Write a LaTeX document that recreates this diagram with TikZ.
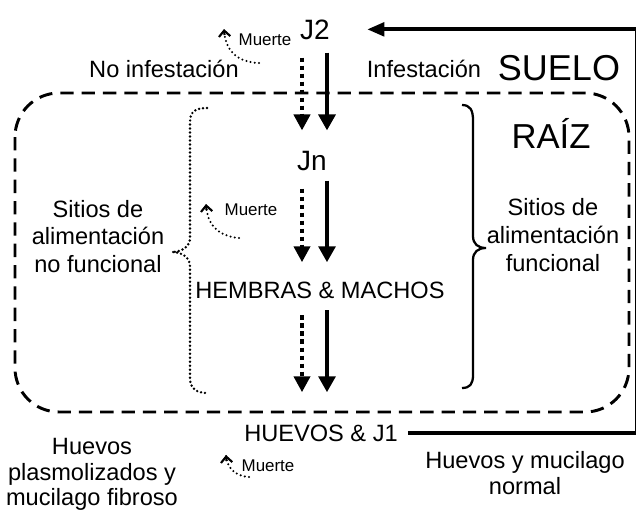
\documentclass[tikz,border=0pt]{standalone}
\usepackage{fontspec}
\setmainfont{Liberation Sans}
\usetikzlibrary{arrows.meta}
\begin{document}
\begin{tikzpicture}[x=0.75pt,y=-0.75pt,
  lab/.style={inner sep=0pt, font=\fontsize{17.7pt}{20.6pt}\selectfont, align=center},
  small/.style={inner sep=0pt, font=\fontsize{12.7pt}{15pt}\selectfont},
  stage/.style={inner sep=0pt, font=\fontsize{21pt}{25pt}\selectfont},
  bigtxt/.style={inner sep=0pt, font=\fontsize{27pt}{32pt}\selectfont},
  solarr/.style={line width=3pt, -{Triangle[width=12.5pt,length=12pt]}},
  dotarr/.style={line width=3pt, dash pattern=on 3.5pt off 2.5pt, -{Triangle[width=12pt,length=12pt]}},
  bigline/.style={line width=3.2pt, -{Triangle[width=10pt,length=13pt]}},
  death/.style={line width=1.7pt, dash pattern=on 0pt off 3.2pt, line cap=round},
  deathtip/.style={line width=1.6pt, -{Straight Barb[width=8.5pt,length=4.5pt]}},
  rootbox/.style={line width=2.2pt, dash pattern=on 10pt off 6pt, rounded corners=33pt},
  dotbrace/.style={line width=2pt, dash pattern=on 0pt off 3pt, line cap=round},
  solbrace/.style={line width=1.7pt}
]
\useasboundingbox (0,0) rectangle (636,514);

% root region
\draw[rootbox] (15,93) rectangle (629,412);

% nodes
\node[stage, anchor=base] (j2) at (315,39) {J2};
\node[small, anchor=base] (m1) at (265,45.5) {Muerte};
\node[lab, anchor=base] (noinf) at (164,77) {No infestación};
\node[lab, anchor=base] (inf) at (424,77) {Infestación};
\node[bigtxt, anchor=base] (suelo) at (559,80) {SUELO};
\node[inner sep=0pt, font=\fontsize{26pt}{30pt}\selectfont, anchor=base] (raiz) at (551,148) {RAÍZ};
\node[stage, anchor=base] (jn) at (312,170) {Jn};
\node[lab, anchor=north] (nofun) at (98,200) {Sitios de\\alimentación\\no funcional};
\node[lab, anchor=north, font=\fontsize{17.7pt}{21.2pt}\selectfont] (fun) at (553,198) {Sitios de\\alimentación\\funcional};
\node[small, anchor=base] (m2) at (251,215.5) {Muerte};
\node[lab, anchor=base] (hm) at (320,298) {HEMBRAS \& MACHOS};
\node[lab, anchor=base] (hj1) at (321,441) {HUEVOS \& J1};
\node[lab, anchor=north, font=\fontsize{17.7pt}{19.2pt}\selectfont] (plas) at (92,438) {Huevos\\plasmolizados y\\mucilago fibroso};
\node[small, anchor=base] (m3) at (268,471) {Muerte};
\node[lab, anchor=north, font=\fontsize{17.7pt}{19.5pt}\selectfont] (norm) at (525,451) {Huevos y mucilago\\normal};

% columns for paired arrows
\coordinate (dcol) at (302,0);
\coordinate (scol) at (327,0);
\coordinate (rc) at (637.5,0);

% J2 -> Jn
\draw[dotarr, shorten <=13.5pt, shorten >=15pt] (j2.south -| dcol) -- (jn.north -| dcol);
\draw[solarr, shorten <=9.75pt, shorten >=15pt] (j2.south -| scol) -- (jn.north -| scol);
% Jn -> HEMBRAS & MACHOS
\draw[dotarr, shorten <=13.5pt, shorten >=14.25pt] (jn.south -| dcol) -- (hm.north -| dcol);
\draw[solarr, shorten <=7.5pt, shorten >=14.25pt] (jn.south -| scol) -- (hm.north -| scol);
% HEMBRAS & MACHOS -> HUEVOS & J1
\draw[dotarr, shorten <=12.75pt, shorten >=24pt] (hm.south -| dcol) -- (hj1.north -| dcol);
\draw[solarr, shorten <=9pt, shorten >=24pt] (hm.south -| scol) -- (hj1.north -| scol);

% cycle back to J2
\draw[bigline, shorten <=7.5pt, shorten >=27.75pt] (hj1.east) -- (hj1.east -| rc) |- (j2.east);

% death arrows
\coordinate (d1s) at (259,63); \coordinate (d1e) at (224,29);
\draw[death] (d1s) .. controls (236,62) and (225,50) .. (d1e);
\draw[deathtip] (d1e) ++(0.5,6) -- (d1e);
\coordinate (d2s) at (239,238); \coordinate (d2e) at (206,204);
\draw[death] (d2s) .. controls (218,236) and (207,225) .. (d2e);
\draw[deathtip] (d2e) ++(0.5,6) -- (d2e);
\coordinate (d3s) at (249,477); \coordinate (d3e) at (226,455);
\draw[death] (d3s) .. controls (236,476) and (227,469) .. (d3e);
\draw[deathtip] (d3e) ++(0.5,6) -- (d3e);

% left dotted brace
\draw[dotbrace] (207,108) .. controls (195,108) and (190,112) .. (190,122) -- (190,238)
  .. controls (190,247) and (181,252) .. (172,252)
  .. controls (181,252) and (190,257) .. (190,266) -- (190,378)
  .. controls (190,388) and (196,393) .. (207,393);

% right solid brace
\draw[solbrace] (462,105) .. controls (470,105) and (473,110) .. (473,120) -- (473,236)
  .. controls (473,244) and (478,248) .. (486,248)
  .. controls (478,248) and (473,252) .. (473,260) -- (473,375)
  .. controls (473,384) and (470,388) .. (462,388);
\end{tikzpicture}
\end{document}
